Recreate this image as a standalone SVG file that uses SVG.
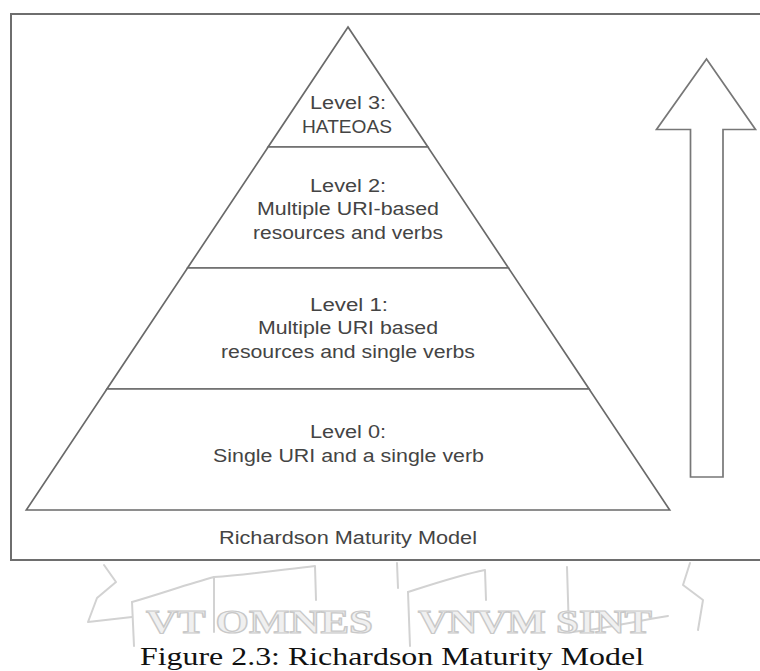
<svg xmlns="http://www.w3.org/2000/svg" width="760" height="671" viewBox="0 0 760 671">
  <defs>
    <style>
      .frame { fill: #ffffff; stroke: #6e6e6e; stroke-width: 2; }
      .band { fill: #ffffff; stroke: #6a6a6a; stroke-width: 1.7; stroke-linejoin: miter; }
      .arrow { fill: #ffffff; stroke: #777777; stroke-width: 1.7; stroke-linejoin: miter; }
      .lbl { font-family: "Liberation Sans", Arial, sans-serif; font-size: 17.5px; fill: #444444; text-anchor: middle; }
      .caption { font-family: "Liberation Serif", "Times New Roman", serif; font-size: 26px; fill: #111111; text-anchor: middle; }
      .crest { fill: none; stroke: #d2d2d2; stroke-width: 2; stroke-linejoin: round; stroke-linecap: round; }
      .motto { font-family: "Liberation Serif", "Times New Roman", serif; font-weight: bold; font-size: 34px; fill: #f0f0f0; stroke: #c8c8c8; stroke-width: 1.2; }
    </style>
  </defs>

  <rect x="0" y="0" width="760" height="671" fill="#ffffff"/>

  <!-- outer figure frame (runs past the right edge) -->
  <rect class="frame" x="11" y="14" width="760" height="546"/>

  <!-- pyramid levels, top to bottom -->
  <g id="level-3">
    <polygon class="band" points="348,27 427.9,147 268.1,147"/>
    <text class="lbl" x="348" y="109" textLength="76" lengthAdjust="spacingAndGlyphs">Level 3:</text>
    <text class="lbl" x="347" y="133" textLength="90" lengthAdjust="spacingAndGlyphs">HATEOAS</text>
  </g>

  <g id="level-2">
    <polygon class="band" points="268.1,147 427.9,147 508.5,268 187.5,268"/>
    <text class="lbl" x="348" y="192" textLength="76" lengthAdjust="spacingAndGlyphs">Level 2:</text>
    <text class="lbl" x="348" y="215" textLength="182" lengthAdjust="spacingAndGlyphs">Multiple URI-based</text>
    <text class="lbl" x="348" y="239" textLength="190" lengthAdjust="spacingAndGlyphs">resources and verbs</text>
  </g>

  <g id="level-1">
    <polygon class="band" points="187.5,268 508.5,268 589.1,389 106.9,389"/>
    <text class="lbl" x="349" y="311" textLength="78" lengthAdjust="spacingAndGlyphs">Level 1:</text>
    <text class="lbl" x="348" y="334" textLength="180" lengthAdjust="spacingAndGlyphs">Multiple URI based</text>
    <text class="lbl" x="348" y="358" textLength="254" lengthAdjust="spacingAndGlyphs">resources and single verbs</text>
  </g>

  <g id="level-0">
    <polygon class="band" points="106.9,389 589.1,389 669.7,510 26.3,510"/>
    <text class="lbl" x="348" y="438" textLength="76" lengthAdjust="spacingAndGlyphs">Level 0:</text>
    <text class="lbl" x="348.5" y="462" textLength="271" lengthAdjust="spacingAndGlyphs">Single URI and a single verb</text>
  </g>

  <g id="model-title">
    <text class="lbl" x="348" y="544" textLength="258" lengthAdjust="spacingAndGlyphs">Richardson Maturity Model</text>
  </g>

  <!-- upward maturity arrow -->
  <g id="maturity-arrow">
    <polygon class="arrow" points="706.5,59 755.5,129.5 723,129.5 723,477 690.5,477 690.5,129.5 656.5,129.5"/>
  </g>

  <!-- faint crest banner behind the caption -->
  <g id="crest">
    <path class="crest" d="M104,565 L116,582 L97,598 L88,622 L132,617"/>
    <path class="crest" d="M132,602 C160,594 188,584 214,577 L214,632"/>
    <path class="crest" d="M132,602 L134,646"/>
    <path class="crest" d="M214,577 C245,575 280,570 315,566 L316,600"/>
    <path class="crest" d="M397,563 L398,588"/>
    <path class="crest" d="M408,592 C430,585 460,575 485,570 L486,600"/>
    <path class="crest" d="M408,592 L410,646"/>
    <path class="crest" d="M567,567 L569,632 C600,630 630,622 668,616"/>
    <path class="crest" d="M690,563 L683,585 L703,600 L698,630"/>
    <text class="motto" x="146" y="633" textLength="227" lengthAdjust="spacingAndGlyphs">VT OMNES</text>
    <text class="motto" x="418" y="633" textLength="234" lengthAdjust="spacingAndGlyphs">VNVM SINT</text>
  </g>

  <g id="figure-caption">
    <text class="caption" x="392" y="665" textLength="504" lengthAdjust="spacingAndGlyphs">Figure 2.3: Richardson Maturity Model</text>
  </g>
</svg>
